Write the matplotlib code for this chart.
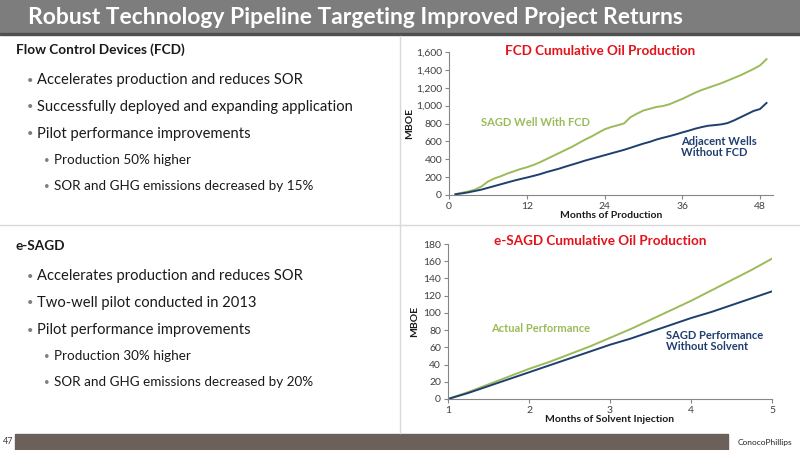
import matplotlib
matplotlib.use("Agg")
import matplotlib.pyplot as plt
from matplotlib.patches import Rectangle
from matplotlib.ticker import FuncFormatter

# ---------- data ----------
fcd_months = list(range(1, 50))
fcd_with = [10, 25, 40, 60, 95, 150, 185, 210, 240, 265,
            290, 310, 335, 365, 400, 435, 470, 505, 540, 580,
            620, 655, 695, 735, 760, 780, 800, 870, 910, 945,
            965, 985, 995, 1015, 1045, 1075, 1110, 1145, 1175, 1200,
            1225, 1250, 1280, 1310, 1340, 1375, 1410, 1450, 1520]
fcd_adjacent = [8, 18, 30, 45, 60, 80, 100, 120, 140, 160,
                178, 195, 213, 232, 255, 275, 295, 318, 340, 362,
                385, 405, 425, 445, 465, 485, 505, 528, 552, 575,
                595, 620, 640, 658, 678, 700, 720, 742, 760, 775,
                782, 790, 805, 835, 870, 905, 940, 962, 1030]

esagd_months = [1, 1.25, 1.5, 1.75, 2, 2.25, 2.5, 2.75, 3, 3.25, 3.5, 3.75, 4, 4.25, 4.5, 4.75, 5]
esagd_actual = [0, 8, 17, 26, 35, 43, 52, 61, 71, 81, 92, 103, 114, 126, 138, 150, 163]
esagd_base = [0, 7, 15, 23, 31, 39, 47, 55, 63, 70, 78, 86, 94, 101, 109, 117, 125]

fcd_xticks = [0, 12, 24, 36, 48]
fcd_yticks = [0, 200, 400, 600, 800, 1000, 1200, 1400, 1600]
esagd_xticks = [1, 2, 3, 4, 5]
esagd_yticks = [0, 20, 40, 60, 80, 100, 120, 140, 160, 180]

bullets_fcd = ["Accelerates production and reduces SOR",
               "Successfully deployed and expanding application",
               "Pilot performance improvements"]
sub_fcd = ["Production 50% higher",
           "SOR and GHG emissions decreased by 15%"]
bullets_esagd = ["Accelerates production and reduces SOR",
                 "Two-well pilot conducted in 2013",
                 "Pilot performance improvements"]
sub_esagd = ["Production 30% higher",
             "SOR and GHG emissions decreased by 20%"]

GREEN = "#9bbb59"
BLUE = "#1f3f6e"
RED = "#e3121b"
TXT = "#1a1a1a"
FONT = ["Lato", "DejaVu Sans"]

plt.rcParams["font.family"] = FONT

W, H = 800, 450
fig = plt.figure(figsize=(8, 4.5), dpi=100)


def fx(px):
    return px / W


def fy(py):
    return 1 - py / H


def ax_px(left, top, right, bottom):
    return fig.add_axes([fx(left), fy(bottom), (right - left) / W, (bottom - top) / H])


# ---------- slide furniture ----------
fig.patches.append(Rectangle((0, fy(33)), 1, 33 / H, transform=fig.transFigure,
                             color="#7d7d7d", zorder=0))
fig.patches.append(Rectangle((0, fy(35)), 1, 2 / H, transform=fig.transFigure,
                             color="#505050", zorder=0))
fig.text(fx(28), fy(18), "Robust Technology Pipeline Targeting Improved Project Returns",
         color="white", fontsize=16.5, fontweight="bold", va="center", ha="left")

# separators
fig.add_artist(plt.Line2D([fx(400), fx(400)], [fy(36), fy(433)], color="#d9d9d9", lw=1))
fig.add_artist(plt.Line2D([0, 1], [fy(225), fy(225)], color="#d9d9d9", lw=1))

# footer
fig.patches.append(Rectangle((fx(15), 0), (728 - 15) / W, 16 / H, transform=fig.transFigure,
                             color="#6b605a", zorder=0))
fig.text(fx(8), fy(442), "47", fontsize=6.5, color="#404040", va="center", ha="center")
fig.text(fx(765), fy(442), "ConocoPhillips", fontsize=6, color="#222222",
         va="center", ha="center")


# ---------- left text ----------
def text_block(y0, head, bullets, subs):
    fig.text(fx(16), fy(y0), head, fontsize=9.8, fontweight="bold", color=TXT, va="center")
    y = y0 + 30
    for b in bullets:
        fig.text(fx(27), fy(y), "•", fontsize=8, color="#7f7f7f", va="center")
        fig.text(fx(37), fy(y), b, fontsize=10.6, color=TXT, va="center")
        y += 27
    for s in subs:
        fig.text(fx(44), fy(y - 1), "•", fontsize=7, color="#7f7f7f", va="center")
        fig.text(fx(54), fy(y - 1), s, fontsize=9.7, color=TXT, va="center")
        y += 26


text_block(50, "Flow Control Devices (FCD)", bullets_fcd, sub_fcd)
text_block(246, "e-SAGD", bullets_esagd, sub_esagd)


# ---------- charts ----------
def style_axes(ax):
    for s in ["top", "right"]:
        ax.spines[s].set_visible(False)
    for s in ["left", "bottom"]:
        ax.spines[s].set_color("#868686")
        ax.spines[s].set_linewidth(0.8)
    ax.tick_params(colors="#868686", labelcolor="#404040", labelsize=7.5, length=3, width=0.8, pad=2)


ax1 = ax_px(449, 52, 773, 195)
ax1.plot(fcd_months, fcd_with, color=GREEN, lw=1.4)
ax1.plot(fcd_months, fcd_adjacent, color=BLUE, lw=1.4)
ax1.set_xlim(0, 50)
ax1.set_ylim(0, 1600)
ax1.set_xticks(fcd_xticks)
ax1.set_yticks(fcd_yticks)
ax1.yaxis.set_major_formatter(FuncFormatter(lambda v, p: f"{v:,.0f}"))
style_axes(ax1)
ax1.set_xlabel("Months of Production", fontsize=7.5, fontweight="bold", color=TXT, labelpad=0)
ax1.set_ylabel("MBOE", fontsize=7.5, fontweight="bold", color=TXT, labelpad=1)
fig.text(fx(600), fy(51), "FCD Cumulative Oil Production", color=RED,
         fontsize=9.7, fontweight="bold", ha="center", va="center")
fig.text(fx(481), fy(123), "SAGD Well With FCD", color=GREEN,
         fontsize=8, fontweight="bold", va="center")
fig.text(fx(681), fy(147), "Adjacent Wells\nWithout FCD", color=BLUE,
         fontsize=8, fontweight="bold", va="center", linespacing=0.95)

ax2 = ax_px(448, 244, 772, 399)
ax2.plot(esagd_months, esagd_actual, color=GREEN, lw=1.4)
ax2.plot(esagd_months, esagd_base, color=BLUE, lw=1.4)
ax2.set_xlim(1, 5)
ax2.set_ylim(0, 180)
ax2.set_xticks(esagd_xticks)
ax2.set_yticks(esagd_yticks)
style_axes(ax2)
ax2.set_xlabel("Months of Solvent Injection", fontsize=7.5, fontweight="bold", color=TXT, labelpad=0)
ax2.set_ylabel("MBOE", fontsize=7.5, fontweight="bold", color=TXT, labelpad=3)
fig.text(fx(600), fy(241), "e-SAGD Cumulative Oil Production", color=RED,
         fontsize=9.7, fontweight="bold", ha="center", va="center")
fig.text(fx(491), fy(329), "Actual Performance", color=GREEN,
         fontsize=8, fontweight="bold", va="center")
fig.text(fx(666), fy(341), "SAGD Performance\nWithout Solvent", color=BLUE,
         fontsize=8, fontweight="bold", va="center", linespacing=0.95)

fig.savefig("out.png", dpi=100)
